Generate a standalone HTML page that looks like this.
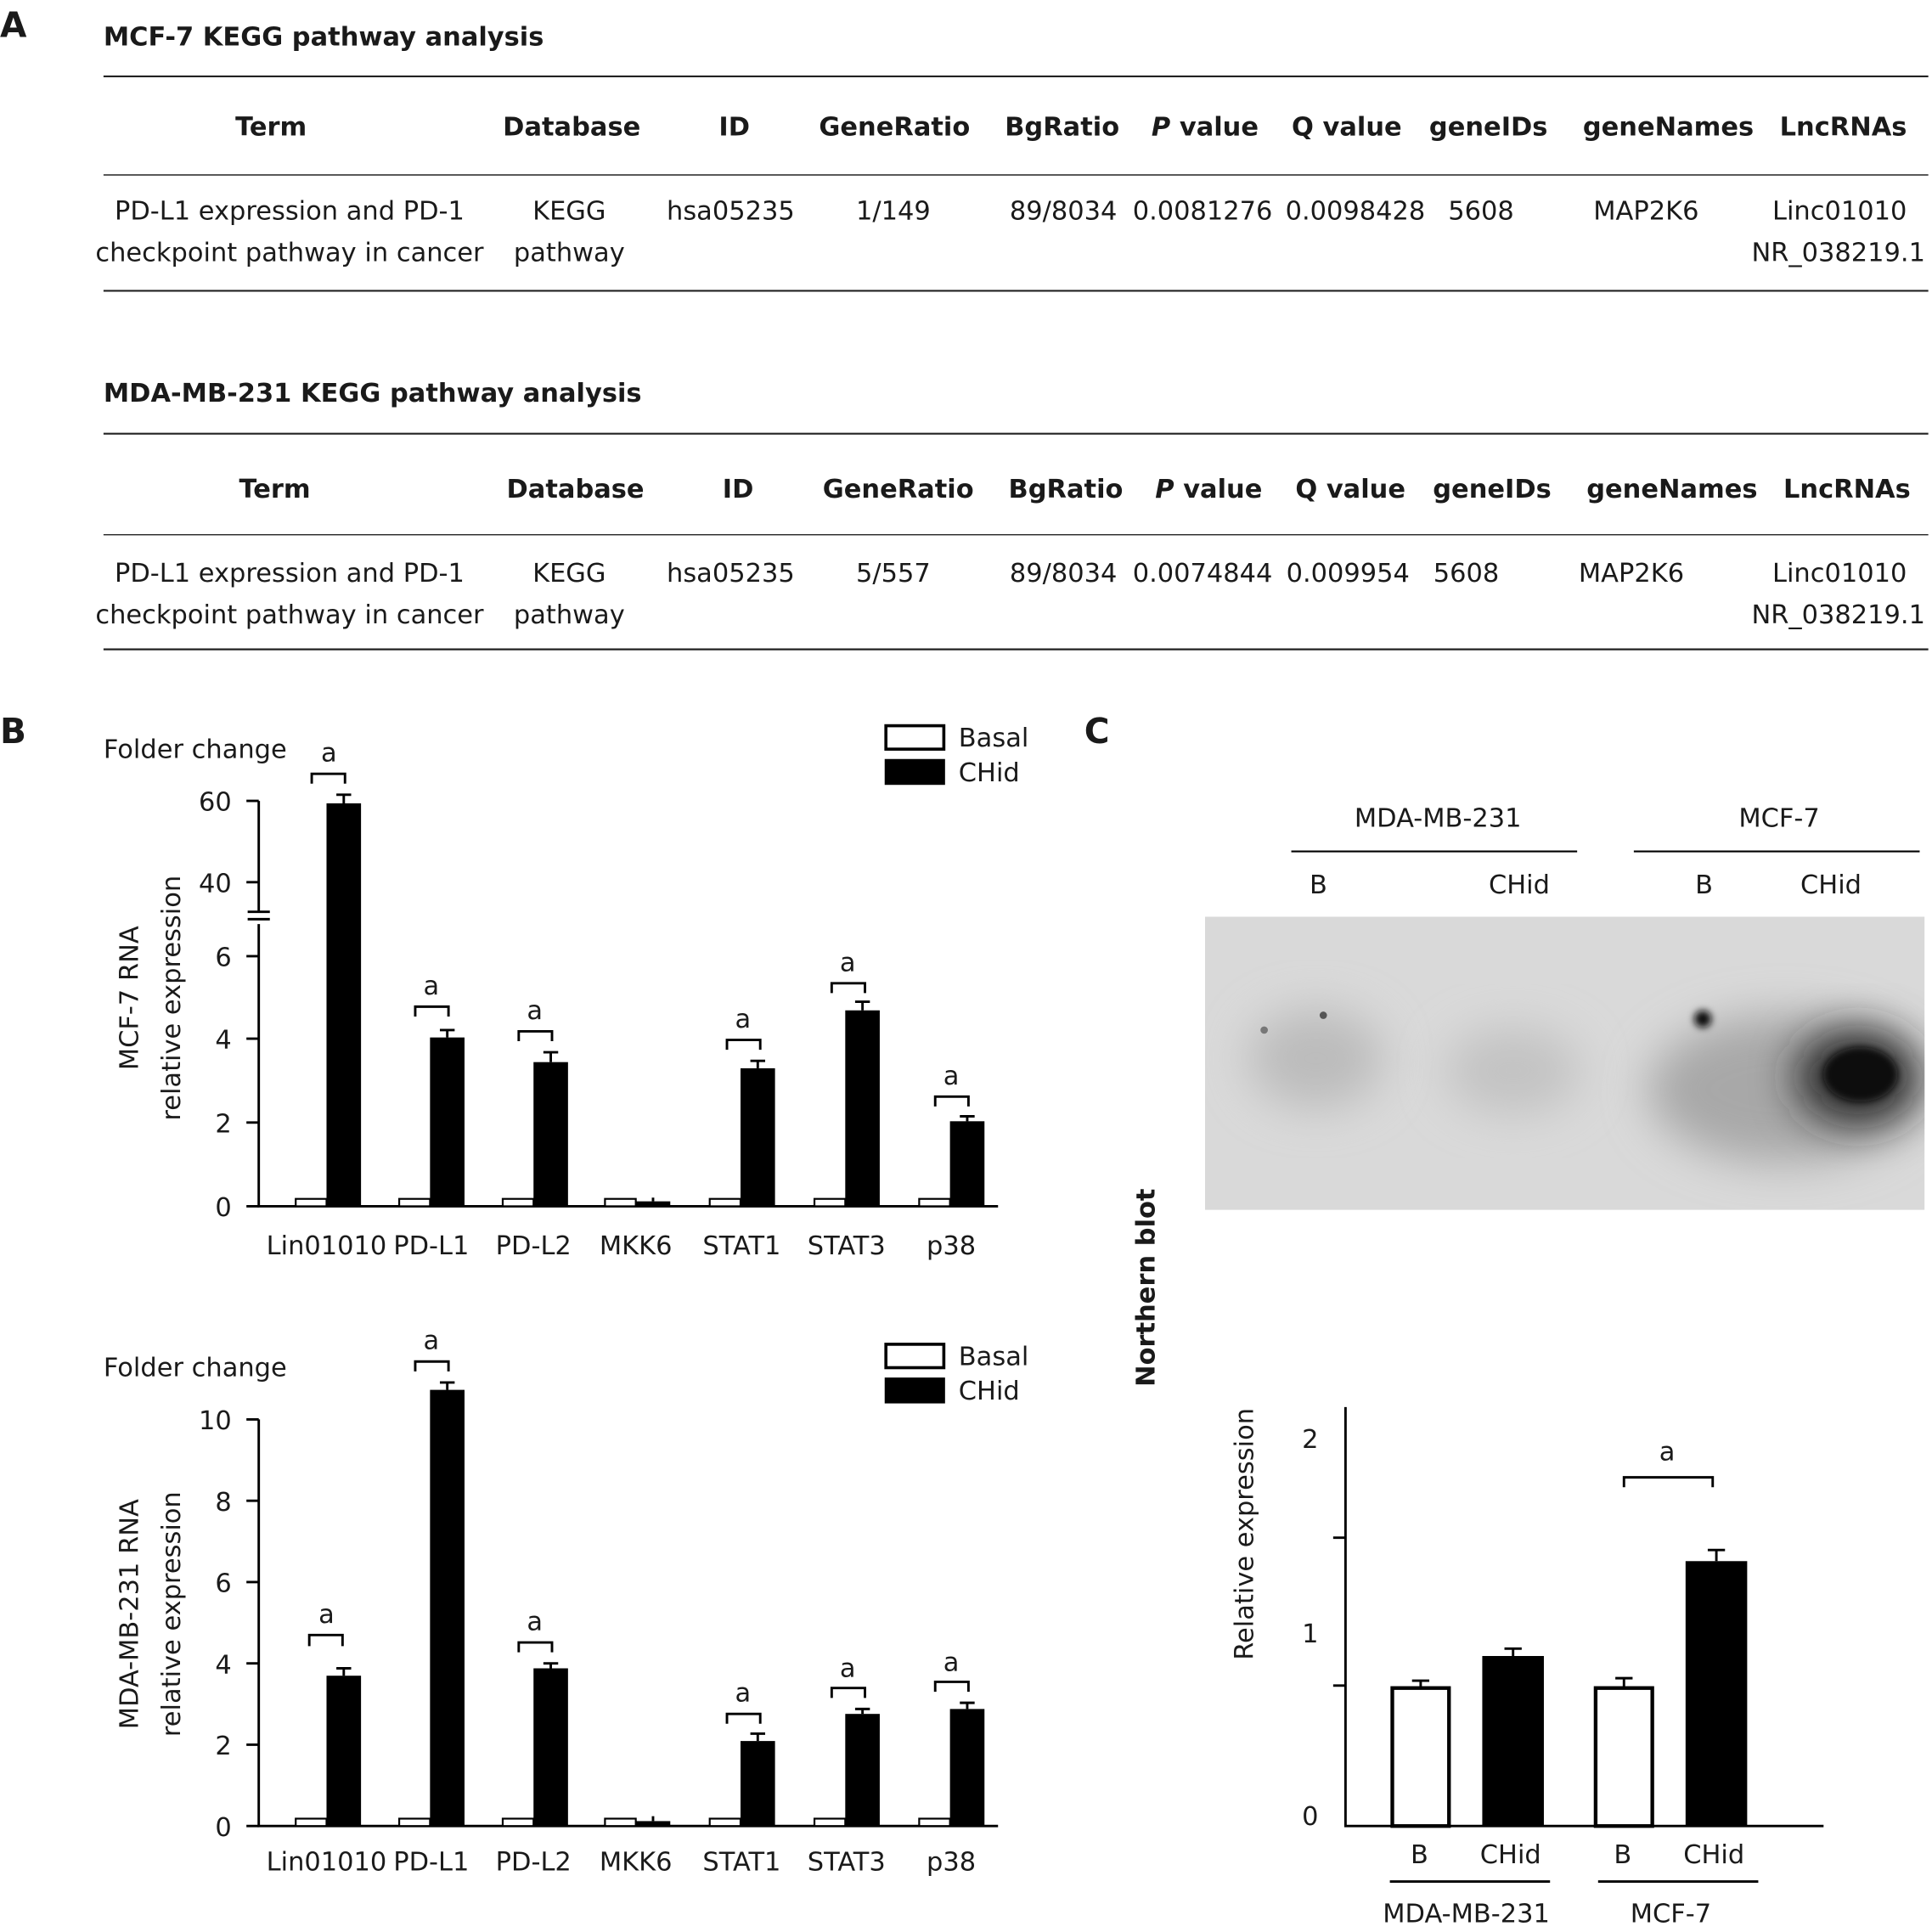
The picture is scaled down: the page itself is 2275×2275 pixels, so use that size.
<!DOCTYPE html>
<html><head><meta charset="utf-8"><style>
html,body{margin:0;padding:0;background:#fff}
svg{display:block}
text{font-family:"DejaVu Sans","Liberation Sans",sans-serif;fill:#1a1a1a}
</style></head><body>
<svg width="2275" height="2275" viewBox="0 0 1568 1568" xmlns="http://www.w3.org/2000/svg">
<defs>
<filter id="bl" x="-50%" y="-50%" width="200%" height="200%"><feGaussianBlur stdDeviation="18"/></filter>
<filter id="bl2" x="-50%" y="-50%" width="200%" height="200%"><feGaussianBlur stdDeviation="3"/></filter>
</defs>
<!-- Section A -->
<text x="0" y="30" font-size="28" font-weight="bold">A</text>
<g font-size="21">
<text x="84" y="37" font-weight="bold">MCF-7 KEGG pathway analysis</text>
<line x1="84" y1="62" x2="1565" y2="62" stroke="#222" stroke-width="1.5"/>
<g font-weight="bold" text-anchor="middle">
<text x="220" y="110">Term</text><text x="464" y="110">Database</text><text x="596" y="110">ID</text><text x="726" y="110">GeneRatio</text><text x="862" y="110">BgRatio</text><text x="978" y="110"><tspan font-style="italic">P</tspan> value</text><text x="1093" y="110">Q value</text><text x="1208" y="110">geneIDs</text><text x="1354" y="110">geneNames</text><text x="1496" y="110">LncRNAs</text>
</g>
<line x1="84" y1="142" x2="1565" y2="142" stroke="#222" stroke-width="1"/>
<g text-anchor="middle">
<text x="235" y="178">PD-L1 expression and PD-1</text><text x="235" y="212">checkpoint pathway in cancer</text>
<text x="462" y="178">KEGG</text><text x="462" y="212">pathway</text>
<text x="593" y="178">hsa05235</text><text x="725" y="178">1/149</text><text x="863" y="178">89/8034</text><text x="976" y="178">0.0081276</text><text x="1100" y="178">0.0098428</text><text x="1202" y="178">5608</text><text x="1336" y="178">MAP2K6</text><text x="1493" y="178">Linc01010</text><text x="1492" y="212">NR_038219.1</text>
</g>
<line x1="84" y1="236" x2="1565" y2="236" stroke="#222" stroke-width="1.5"/>

<text x="84" y="326" font-weight="bold">MDA-MB-231 KEGG pathway analysis</text>
<line x1="84" y1="352" x2="1565" y2="352" stroke="#222" stroke-width="1.5"/>
<g font-weight="bold" text-anchor="middle">
<text x="223" y="404">Term</text><text x="467" y="404">Database</text><text x="599" y="404">ID</text><text x="729" y="404">GeneRatio</text><text x="865" y="404">BgRatio</text><text x="981" y="404"><tspan font-style="italic">P</tspan> value</text><text x="1096" y="404">Q value</text><text x="1211" y="404">geneIDs</text><text x="1357" y="404">geneNames</text><text x="1499" y="404">LncRNAs</text>
</g>
<line x1="84" y1="434" x2="1565" y2="434" stroke="#222" stroke-width="1"/>
<g text-anchor="middle">
<text x="235" y="472">PD-L1 expression and PD-1</text><text x="235" y="506">checkpoint pathway in cancer</text>
<text x="462" y="472">KEGG</text><text x="462" y="506">pathway</text>
<text x="593" y="472">hsa05235</text><text x="725" y="472">5/557</text><text x="863" y="472">89/8034</text><text x="976" y="472">0.0074844</text><text x="1094" y="472">0.009954</text><text x="1190" y="472">5608</text><text x="1324" y="472">MAP2K6</text><text x="1493" y="472">Linc01010</text><text x="1492" y="506">NR_038219.1</text>
</g>
<line x1="84" y1="527" x2="1565" y2="527" stroke="#222" stroke-width="1.5"/>
</g>

<!-- Section B -->
<text x="0" y="603" font-size="28" font-weight="bold">B</text>
<g font-size="21">
<!-- chart 1 -->
<text x="84" y="615">Folder change</text>
<rect x="719" y="589" width="47" height="19" fill="#fff" stroke="#000" stroke-width="2.5"/>
<rect x="718" y="616" width="49" height="21" fill="#000"/>
<text x="778" y="606">Basal</text><text x="778" y="634">CHid</text>
<g stroke="#000" stroke-width="2" fill="none">
<path d="M210 650 V740 M210 750 V979 H810"/>
<path d="M201 740 H219 M201 746 H219"/>
<path d="M200 650H210 M200 716H210 M200 776H210 M200 843H210 M200 911H210 M200 979H210"/>
</g>
<g text-anchor="end"><text x="188" y="658">60</text><text x="188" y="724">40</text><text x="188" y="784">6</text><text x="188" y="851">4</text><text x="188" y="919">2</text><text x="188" y="987">0</text></g>
<text transform="translate(112 810) rotate(-90)" text-anchor="middle">MCF-7 RNA</text>
<text transform="translate(146 810) rotate(-90)" text-anchor="middle">relative expression</text>
<g text-anchor="middle"><text x="265" y="1018">Lin01010</text><text x="350" y="1018">PD-L1</text><text x="433" y="1018">PD-L2</text><text x="516" y="1018">MKK6</text><text x="602" y="1018">STAT1</text><text x="687" y="1018">STAT3</text><text x="772" y="1018">p38</text></g>
<g id="b1">
<g fill="#fff" stroke="#000" stroke-width="1.5">
<rect x="240" y="973" width="25" height="6"/><rect x="324" y="973" width="25" height="6"/><rect x="408" y="973" width="25" height="6"/><rect x="491" y="973" width="25" height="6"/><rect x="576" y="973" width="25" height="6"/><rect x="661" y="973" width="25" height="6"/><rect x="746" y="973" width="25" height="6"/>
</g>
<g fill="#000">
<rect x="265" y="652" width="28" height="327"/><rect x="349" y="842" width="28" height="137"/><rect x="433" y="862" width="28" height="117"/><rect x="516" y="975" width="28" height="4"/><rect x="601" y="867" width="28" height="112"/><rect x="686" y="820" width="28" height="159"/><rect x="771" y="910" width="28" height="69"/>
</g>
<g stroke="#000" stroke-width="2" fill="none">
<path d="M279 645V652M273 645H285 M363 836V842M357 836H369 M447 854V862M441 854H453 M615 861V867M609 861H621 M700 813V820M694 813H706 M785 906V910M779 906H791 M530 972V975"/>
<path d="M253 636V628H280V636 M337 825V817H364V825 M421 845V837H448V845 M590 852V844H617V852 M675 806V798H702V806 M759 898V890H786V898"/>
</g>
<g text-anchor="middle"><text x="267" y="618">a</text><text x="350" y="807">a</text><text x="434" y="827">a</text><text x="603" y="834">a</text><text x="688" y="788">a</text><text x="772" y="880">a</text></g>
</g>

<!-- chart 2 -->
<text x="84" y="1117">Folder change</text>
<rect x="719" y="1091" width="47" height="19" fill="#fff" stroke="#000" stroke-width="2.5"/>
<rect x="718" y="1118" width="49" height="21" fill="#000"/>
<text x="778" y="1108">Basal</text><text x="778" y="1136">CHid</text>
<g stroke="#000" stroke-width="2" fill="none">
<path d="M210 1152 V1482 H810"/>
<path d="M200 1152H210 M200 1218H210 M200 1284H210 M200 1350H210 M200 1416H210 M200 1482H210"/>
</g>
<g text-anchor="end"><text x="188" y="1160">10</text><text x="188" y="1226">8</text><text x="188" y="1292">6</text><text x="188" y="1358">4</text><text x="188" y="1424">2</text><text x="188" y="1490">0</text></g>
<text transform="translate(112 1310) rotate(-90)" text-anchor="middle">MDA-MB-231 RNA</text>
<text transform="translate(146 1310) rotate(-90)" text-anchor="middle">relative expression</text>
<g text-anchor="middle"><text x="265" y="1518">Lin01010</text><text x="350" y="1518">PD-L1</text><text x="433" y="1518">PD-L2</text><text x="516" y="1518">MKK6</text><text x="602" y="1518">STAT1</text><text x="687" y="1518">STAT3</text><text x="772" y="1518">p38</text></g>
<g fill="#fff" stroke="#000" stroke-width="1.5">
<rect x="240" y="1476" width="25" height="6"/><rect x="324" y="1476" width="25" height="6"/><rect x="408" y="1476" width="25" height="6"/><rect x="491" y="1476" width="25" height="6"/><rect x="576" y="1476" width="25" height="6"/><rect x="661" y="1476" width="25" height="6"/><rect x="746" y="1476" width="25" height="6"/>
</g>
<g fill="#000">
<rect x="265" y="1360" width="28" height="122"/><rect x="349" y="1128" width="28" height="354"/><rect x="433" y="1354" width="28" height="128"/><rect x="516" y="1478" width="28" height="4"/><rect x="601" y="1413" width="28" height="69"/><rect x="686" y="1391" width="28" height="91"/><rect x="771" y="1387" width="28" height="95"/>
</g>
<g stroke="#000" stroke-width="2" fill="none">
<path d="M279 1354V1360M273 1354H285 M363 1122V1128M357 1122H369 M447 1350V1354M441 1350H453 M615 1407V1413M609 1407H621 M700 1387V1391M694 1387H706 M785 1382V1387M779 1382H791 M530 1474V1478"/>
<path d="M251 1336V1327H278V1336 M337 1113V1105H364V1113 M421 1341V1333H448V1341 M590 1399V1391H617V1399 M675 1378V1370H702V1378 M759 1373V1365H786V1373"/>
</g>
<g text-anchor="middle"><text x="265" y="1317">a</text><text x="350" y="1095">a</text><text x="434" y="1323">a</text><text x="603" y="1381">a</text><text x="688" y="1361">a</text><text x="772" y="1356">a</text></g>

<!-- Section C -->
<text x="880" y="603" font-size="28" font-weight="bold">C</text>
<g text-anchor="middle">
<text x="1167" y="671">MDA-MB-231</text><text x="1444" y="671">MCF-7</text>
<text x="1070" y="725">B</text><text x="1233" y="725">CHid</text><text x="1383" y="725">B</text><text x="1486" y="725">CHid</text>
</g>
<g stroke="#000" stroke-width="1.5"><line x1="1048" y1="691" x2="1280" y2="691"/><line x1="1326" y1="691" x2="1558" y2="691"/></g>
<svg x="978" y="744" width="584" height="238" overflow="hidden">
<rect width="584" height="238" fill="#d9d9d9"/>
<ellipse cx="90" cy="115" rx="55" ry="40" fill="#bcbcbc" filter="url(#bl)"/>
<ellipse cx="250" cy="125" rx="55" ry="35" fill="#c3c3c3" filter="url(#bl)"/>
<ellipse cx="470" cy="140" rx="110" ry="60" fill="#a8a8a8" filter="url(#bl)"/>
<ellipse cx="530" cy="130" rx="50" ry="38" fill="#222" filter="url(#bl)"/>
<ellipse cx="532" cy="128" rx="30" ry="22" fill="#111" filter="url(#bl2)"/>
<circle cx="404" cy="83" r="7" fill="#111" filter="url(#bl2)"/>
<circle cx="96" cy="80" r="3" fill="#555"/>
<circle cx="48" cy="92" r="3" fill="#777"/>
</svg>
<text transform="translate(937 1045) rotate(-90)" text-anchor="middle" font-weight="bold">Northern blot</text>
<g stroke="#000" stroke-width="2" fill="none">
<path d="M1092 1142 V1482 H1480 M1082 1248H1092 M1082 1368H1092"/>
</g>
<text x="1070" y="1175" text-anchor="end">2</text><text x="1070" y="1333" text-anchor="end">1</text><text x="1070" y="1481" text-anchor="end">0</text>
<text transform="translate(1017 1245) rotate(-90)" text-anchor="middle">Relative expression</text>
<rect x="1130" y="1370" width="46" height="112" fill="#fff" stroke="#000" stroke-width="3"/>
<rect x="1203" y="1344" width="50" height="138" fill="#000"/>
<rect x="1295" y="1370" width="46" height="112" fill="#fff" stroke="#000" stroke-width="3"/>
<rect x="1368" y="1267" width="50" height="215" fill="#000"/>
<g stroke="#000" stroke-width="2" fill="none">
<path d="M1153 1364V1369M1146 1364H1160 M1228 1338V1344M1221 1338H1235 M1318 1362V1369M1311 1362H1325 M1393 1258V1267M1386 1258H1400"/>
<path d="M1318 1207V1199H1390V1207"/>
<path d="M1128 1527H1258 M1297 1527H1427"/>
</g>
<text x="1353" y="1185" text-anchor="middle">a</text>
<g text-anchor="middle">
<text x="1152" y="1512">B</text><text x="1226" y="1512">CHid</text><text x="1317" y="1512">B</text><text x="1391" y="1512">CHid</text>
<text x="1190" y="1560">MDA-MB-231</text><text x="1356" y="1560">MCF-7</text>
</g>
</g>
</svg>
</body></html>
